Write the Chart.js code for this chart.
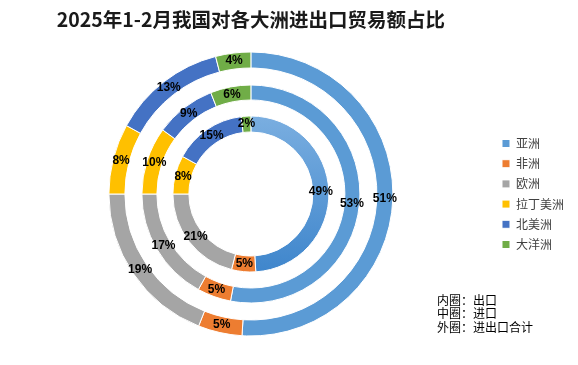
<!DOCTYPE html>
<html>
<head>
<meta charset="utf-8">
<script src="https://cdn.jsdelivr.net/npm/chart.js@4"></script>
<style>
  html, body { margin: 0; padding: 0; background: #fff; }
</style>
</head>
<body>
<canvas id="tradeChart" width="578" height="365"></canvas>
<script>
const continents = ['亚洲', '非洲', '欧洲', '拉丁美洲', '北美洲', '大洋洲'];
const exportShare = [49, 5, 21, 8, 15, 2];   // 内圈
const importShare = [53, 5, 17, 10, 9, 6];   // 中圈
const totalShare = [51, 5, 19, 8, 13, 4];    // 外圈
const ringNotes = ['内圈：出口', '中圈：进口', '外圈：进出口合计'];

const colors = ['#5b9bd5', '#ed7d31', '#a5a5a5', '#ffc000', '#4472c4', '#70ad47'];

// inner ring asia slice has a light-to-dark gradient in the original
function innerColor(ctx) {
    const i = ctx.dataIndex;
    const chart = ctx.chart;
    if (i !== 0 || !chart.chartArea) return colors[i];
    const cy = (chart.chartArea.top + chart.chartArea.bottom) / 2;
    const g = chart.ctx.createLinearGradient(0, cy - 78, 0, cy + 78);
    g.addColorStop(0, '#7aaee0');
    g.addColorStop(1, '#3f86cc');
    return g;
}

function spacer(w) {
    return { data: [1], backgroundColor: 'rgba(0,0,0,0)', borderWidth: 0, weight: w, spacer: true };
}

const pctLabels = {
    id: 'pctLabels',
    afterDatasetsDraw(chart) {
        const ctx = chart.ctx;
        ctx.save();
        ctx.font = 'bold 12px "Liberation Sans", Arial, sans-serif';
        ctx.fillStyle = '#000';
        ctx.textAlign = 'center';
        ctx.textBaseline = 'middle';
        chart.data.datasets.forEach((ds, di) => {
            if (ds.spacer) return;
            chart.getDatasetMeta(di).data.forEach((arc, i) => {
                const p = arc.tooltipPosition();
                ctx.fillText(ds.data[i] + '%', p.x, p.y);
            });
        });
        ctx.restore();
    }
};

const notes = {
    id: 'notes',
    afterDraw(chart) {
        const ctx = chart.ctx;
        ctx.save();
        ctx.font = '12px "Noto Sans CJK SC", sans-serif';
        ctx.fillStyle = '#000';
        ctx.textAlign = 'left';
        ctx.textBaseline = 'middle';
        ringNotes.forEach((t, i) => ctx.fillText(t, 437, 300 + i * 13.5));
        ctx.restore();
    }
};

const data = {
    labels: continents,
    datasets: [
        { label: '外圈', data: totalShare, backgroundColor: colors, borderColor: '#fff', borderWidth: 1, weight: 16 },
        spacer(17),
        { label: '中圈', data: importShare, backgroundColor: colors, borderColor: '#fff', borderWidth: 1, weight: 15 },
        spacer(16),
        { label: '内圈', data: exportShare, backgroundColor: innerColor, borderColor: '#fff', borderWidth: 1, weight: 16 }
    ]
};

new Chart(document.getElementById('tradeChart'), {
    type: 'doughnut',
    data: data,
    options: {
        responsive: false,
        animation: false,
        events: [],
        radius: 142,
        cutout: '43.66%',
        layout: { padding: { left: 8, right: 4, top: 0, bottom: 29 } },
        plugins: {
            tooltip: { enabled: false },
            title: {
                display: true,
                fullSize: false,
                text: '2025年1-2月我国对各大洲进出口贸易额占比',
                color: '#1a1a1a',
                font: { size: 19.5, weight: 'bold', family: '"Noto Sans CJK SC", sans-serif' },
                padding: { top: 8, bottom: 20.6 }
            },
            legend: {
                position: 'right',
                fullSize: false,
                labels: {
                    boxWidth: 8,
                    boxHeight: 8,
                    padding: 8.2,
                    color: '#404040',
                    font: { size: 12, family: '"Noto Sans CJK SC", sans-serif' }
                }
            }
        }
    },
    plugins: [pctLabels, notes]
});
</script>
</body>
</html>
